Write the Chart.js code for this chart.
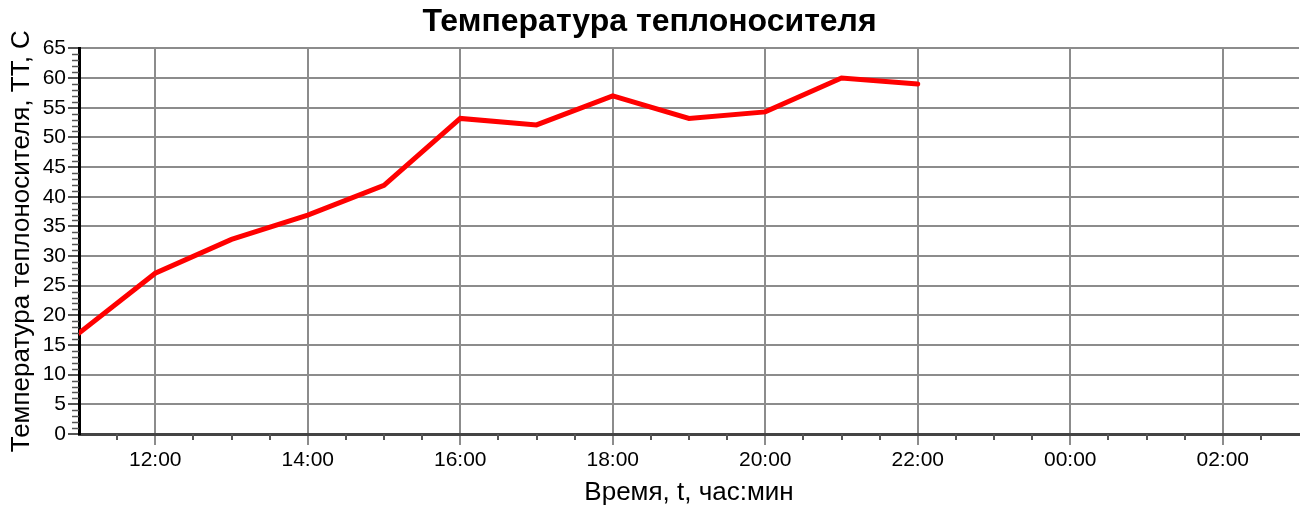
<!DOCTYPE html>
<html>
<head>
<meta charset="utf-8">
<script src="https://cdn.jsdelivr.net/npm/chart.js@4"></script>
<style>
  body { margin: 0; background: #fff; }
  #wrap { width: 1305px; height: 508px; }
</style>
</head>
<body>
<div id="wrap"><canvas id="c" width="1305" height="508"></canvas></div>
<script>
// hours since midnight (values past 24 are next day)
const hours = [11, 12, 13, 14, 15, 16, 17, 18, 19, 20, 21, 22];
const temps = [17, 27.1, 32.8, 36.9, 41.9, 53.2, 52.1, 57, 53.2, 54.3, 60, 59];

const xTickHours = [12, 14, 16, 18, 20, 22, 24, 26];
const xTickLabels = ['12:00', '14:00', '16:00', '18:00', '20:00', '22:00', '00:00', '02:00'];

const FONT = '"Liberation Sans", Arial, sans-serif';

// small ticks between the labelled ones
const minorTicks = {
  id: 'minorTicks',
  afterDraw(chart) {
    const ctx = chart.ctx;
    const x = chart.scales.x, y = chart.scales.y;
    const area = chart.chartArea;
    ctx.save();
    ctx.strokeStyle = '#555';
    ctx.lineWidth = 2;
    for (let h = 11.5; h < 27; h += 0.5) {
      if (xTickHours.includes(h)) continue;
      const px = Math.round(x.getPixelForValue(h));
      ctx.beginPath();
      ctx.moveTo(px, area.bottom);
      ctx.lineTo(px, area.bottom + 6);
      ctx.stroke();
    }
    ctx.lineWidth = 1.5;
    for (let v = 1; v < 65; v++) {
      if (v % 5 === 0) continue;
      const py = Math.round(y.getPixelForValue(v)) + 0.5;
      ctx.beginPath();
      ctx.moveTo(area.left - 7, py);
      ctx.lineTo(area.left, py);
      ctx.stroke();
    }
    ctx.restore();
  }
};

new Chart(document.getElementById('c'), {
  type: 'line',
  data: {
    datasets: [{
      data: hours.map((h, i) => ({ x: h, y: temps[i] })),
      borderColor: '#ff0000',
      borderWidth: 5,
      borderCapStyle: 'round',
      borderJoinStyle: 'miter',
      pointRadius: 0,
      tension: 0
    }]
  },
  options: {
    responsive: false,
    animation: false,
    layout: { padding: { left: 0, right: 6, top: 0, bottom: 0 } },
    plugins: {
      legend: { display: false },
      tooltip: { enabled: false },
      title: {
        display: true,
        text: 'Температура теплоносителя',
        color: '#000',
        font: { family: FONT, size: 32, weight: 'bold' },
        padding: { top: 3, bottom: 7 }
      }
    },
    scales: {
      x: {
        type: 'linear',
        min: 11,
        max: 27,
        afterBuildTicks: axis => { axis.ticks = xTickHours.map(v => ({ value: v })); },
        afterFit: axis => { axis.height = 74; },
        ticks: {
          color: '#000',
          font: { family: FONT, size: 21 },
          padding: 3,
          maxRotation: 0,
          autoSkip: false,
          callback: v => xTickLabels[xTickHours.indexOf(v)]
        },
        grid: { color: '#8c8c8c', lineWidth: 2, tickLength: 11, tickColor: '#8c8c8c' },
        border: { color: '#444', width: 3 },
        title: {
          display: true,
          text: 'Время, t, час:мин',
          color: '#000',
          font: { family: FONT, size: 26 },
          padding: { top: 2, bottom: 0 }
        }
      },
      y: {
        min: 0,
        max: 65,
        afterFit: axis => { axis.width = 79; },
        ticks: {
          stepSize: 5,
          color: '#000',
          font: { family: FONT, size: 21 },
          padding: 2
        },
        grid: { color: '#8c8c8c', lineWidth: 2, tickLength: 11, tickColor: '#555' },
        border: { color: '#000', width: 3 },
        title: {
          display: true,
          text: 'Температура теплоносителя, ТТ, С',
          color: '#000',
          font: { family: FONT, size: 26 },
          padding: { top: 6, bottom: 0 }
        }
      }
    }
  },
  plugins: [minorTicks]
});
</script>
</body>
</html>
